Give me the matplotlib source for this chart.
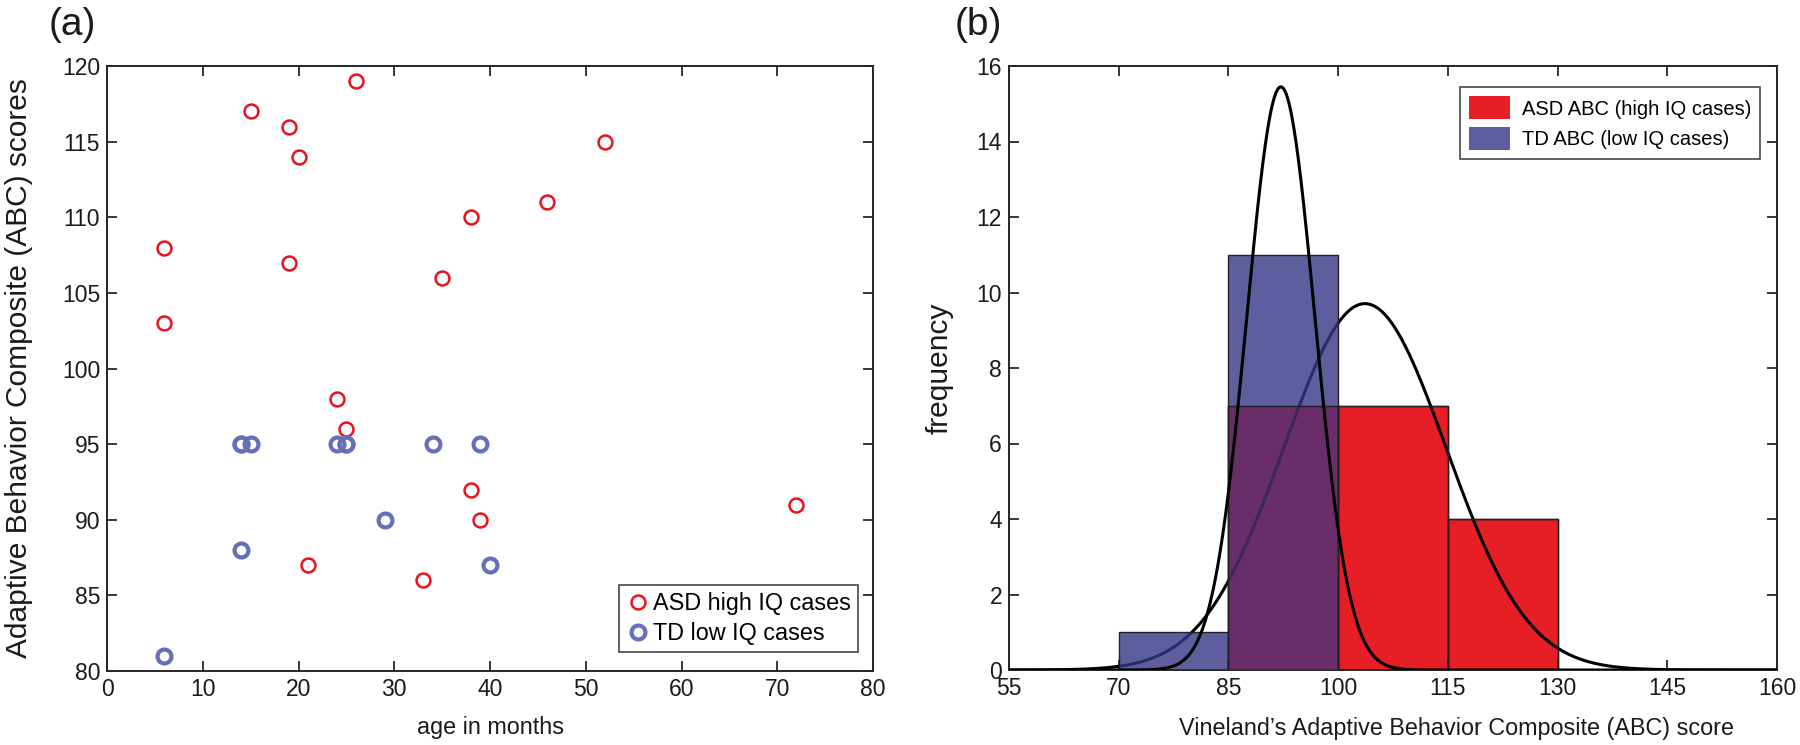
import numpy as np
import matplotlib
matplotlib.use("Agg")
import matplotlib.pyplot as plt
from matplotlib.patches import Patch

plt.rcParams['font.family'] = ['Liberation Sans', 'DejaVu Sans']

# ---- data ----
asd_age = [26, 15, 19, 20, 52, 46, 38, 6, 19, 35, 6, 24, 25, 38, 72, 39, 21, 33]
asd_abc = [119, 117, 116, 114, 115, 111, 110, 108, 107, 106, 103, 98, 96, 92, 91, 90, 87, 86]
td_age = [14, 15, 24, 25, 34, 39, 14, 25, 29, 14, 40, 6]
td_abc = [95, 95, 95, 95, 95, 95, 95, 95, 90, 88, 87, 81]
bin_edges = [55, 70, 85, 100, 115, 130, 145, 160]
xticks_a = [0, 10, 20, 30, 40, 50, 60, 70, 80]
yticks_a = [80, 85, 90, 95, 100, 105, 110, 115, 120]
xticks_b = [55, 70, 85, 100, 115, 130, 145, 160]
yticks_b = [0, 2, 4, 6, 8, 10, 12, 14, 16]

RED = '#E8121C'
BLUE_M = '#6670B8'
RED_BAR = '#E61E25'
BLUE_BAR = (54/255, 54/255, 134/255)
PURP_BAR = (74/255, 49/255, 120/255)
A = 0.8
SPINE = '#262626'
TXT = '#1a1a1a'

fig = plt.figure(figsize=(18, 7.45), dpi=100)
W, H = 1800, 745
axa = fig.add_axes([107/W, (H-671)/H, 766/W, 605/H])
axb = fig.add_axes([1009/W, (H-670)/H, 768/W, 604/H])

def style(ax):
    for s in ax.spines.values():
        s.set_color(SPINE)
        s.set_linewidth(1.4)
    ax.tick_params(direction='in', length=7, width=1.3, color=SPINE,
                   top=True, right=True, labelsize=16.5, pad=5, labelcolor=TXT)

# ---- (a) scatter ----
axa.plot(asd_age, asd_abc, 'o', ls='none', mfc='none', mec=RED, mew=1.8, ms=10,
         label='ASD high IQ cases', zorder=3)
axa.plot(td_age, td_abc, 'o', ls='none', mfc='none', mec=BLUE_M, mew=3.0, ms=10,
         label='TD low IQ cases', zorder=3)
axa.set_xlim(0, 80)
axa.set_ylim(80, 120)
axa.set_xticks(xticks_a)
axa.set_yticks(yticks_a)
style(axa)
axa.set_xlabel('age in months', fontsize=16.8, color=TXT)
axa.xaxis.set_label_coords(0.5, -0.075)
axa.set_ylabel('Adaptive Behavior Composite (ABC) scores', fontsize=21.5, color=TXT)
axa.yaxis.set_label_coords(-0.097, 0.5)
lega = axa.legend(loc='lower right', bbox_to_anchor=(0.980, 0.031), borderaxespad=0,
                  fontsize=16.8, frameon=True, fancybox=False, handletextpad=0.15,
                  handlelength=1.0, borderpad=0.3, labelspacing=0.3)
lega.get_frame().set_edgecolor(TXT)
lega.get_frame().set_linewidth(1.2)

# ---- (b) histograms ----
asd_counts, _ = np.histogram(asd_abc, bins=bin_edges)
td_counts, _ = np.histogram(td_abc, bins=bin_edges)
overlap = np.minimum(asd_counts, td_counts)
left = np.array(bin_edges[:-1])
width = np.diff(bin_edges)

axb.bar(left, asd_counts, width=width, align='edge', color=RED_BAR,
        edgecolor='#222222', linewidth=1.0, zorder=1)

xs = np.linspace(55, 160, 600)
def fit(vals):
    v = np.asarray(vals, float)
    m, s = v.mean(), v.std(ddof=1)
    return len(v) * 15 * np.exp(-0.5 * ((xs - m) / s) ** 2) / (s * np.sqrt(2 * np.pi))

axb.plot(xs, fit(asd_abc), color='black', lw=2.2, zorder=2)
axb.bar(left, overlap, width=width, align='edge', color=PURP_BAR, alpha=A,
        edgecolor='none', linewidth=0, zorder=3)
axb.bar(left, td_counts - overlap, bottom=overlap, width=width, align='edge',
        color=BLUE_BAR, alpha=A, edgecolor='none', linewidth=0, zorder=3)
axb.bar(left, td_counts, width=width, align='edge', fill=False,
        edgecolor='#222222', linewidth=1.0, zorder=4)
axb.bar(left, asd_counts, width=width, align='edge', fill=False,
        edgecolor='#222222', linewidth=1.0, zorder=4)
axb.plot(xs, fit(td_abc), color='black', lw=2.2, zorder=5)

axb.set_xlim(55, 160)
axb.set_ylim(0, 16)
axb.set_xticks(xticks_b)
axb.set_yticks(yticks_b)
style(axb)
axb.set_xlabel('Vineland\u2019s Adaptive Behavior Composite (ABC) score', fontsize=16.8,
               color=TXT)
axb.xaxis.set_label_coords(0.583, -0.077)
axb.set_ylabel('frequency', fontsize=21.5, color=TXT)
axb.yaxis.set_label_coords(-0.072, 0.5)

handles = [Patch(facecolor=RED_BAR, edgecolor='none'),
           Patch(facecolor='#5E5E9E', edgecolor='none')]
legb = axb.legend(handles, ['ASD ABC (high IQ cases)', 'TD ABC (low IQ cases)'],
                  loc='upper right', bbox_to_anchor=(0.978, 0.965), borderaxespad=0,
                  fontsize=14.5, frameon=True, fancybox=False, handletextpad=0.6,
                  handlelength=2.0, handleheight=1.4, borderpad=0.45, labelspacing=0.35)
legb.get_frame().set_edgecolor(TXT)
legb.get_frame().set_linewidth(1.2)

fig.text(72/W, 1 - 25/H, '(a)', fontsize=28, ha='center', va='center', color=TXT)
fig.text(978/W, 1 - 25/H, '(b)', fontsize=28, ha='center', va='center', color=TXT)

fig.savefig('out.png', dpi=100, facecolor='white')
